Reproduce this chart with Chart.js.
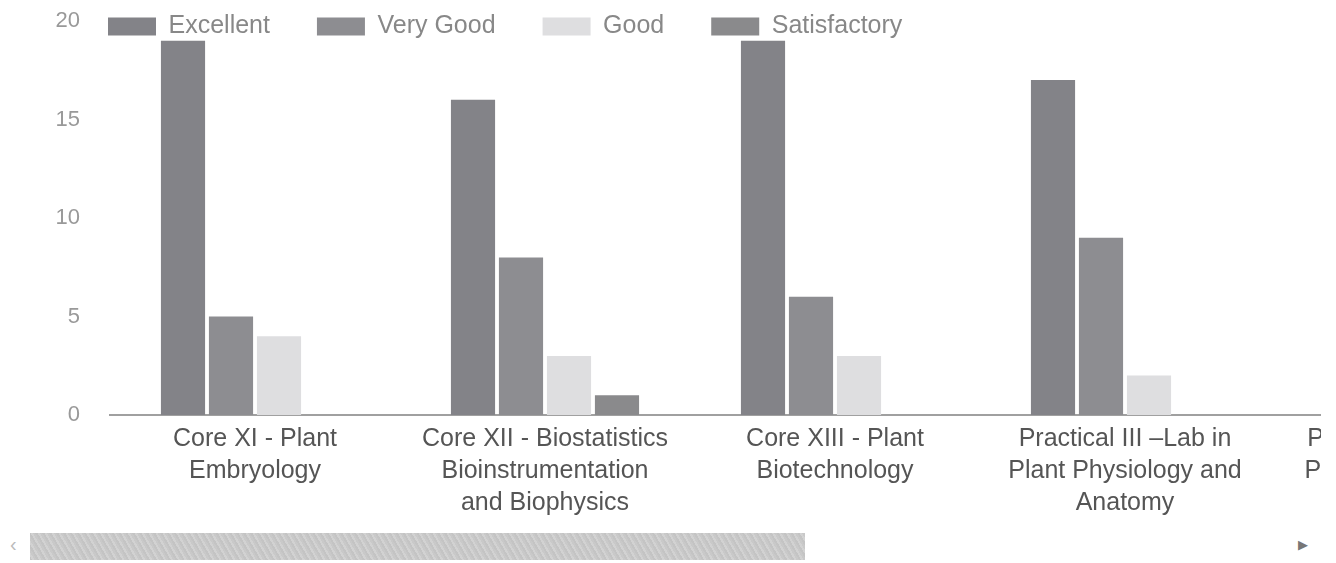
<!DOCTYPE html>
<html>
<head>
<meta charset="utf-8">
<script src="https://cdn.jsdelivr.net/npm/chart.js@4.4.1/dist/chart.umd.min.js"></script>
<style>
  html, body { margin: 0; padding: 0; background: #fff; }
  #clip { position: absolute; left: 0; top: 0; width: 1321px; height: 530px; overflow: hidden; }
  #wrap { position: relative; width: 1575px; height: 530px; }
  #bar { position: absolute; left: 30px; top: 533px; width: 775px; height: 27px;
         background: repeating-linear-gradient(60deg, #c4c4c4 0 2px, #d2d2d2 2px 4px, #c9c9c9 4px 6px); }
  .arr { position: absolute; font-family: "Liberation Sans", Arial, sans-serif; }
</style>
</head>
<body>
<div id="clip"><div id="wrap"><canvas id="chart"></canvas></div></div>
<div id="bar"></div>
<div class="arr" style="left:10px; top:533px; font-size:20px; color:#bbb;">‹</div>
<div class="arr" style="left:1298px; top:537px; font-size:13px; color:#777;">▶</div>
<script>
const categories = [
    ["Core XI - Plant", "Embryology"],
    ["Core XII - Biostatistics", "Bioinstrumentation", "and Biophysics"],
    ["Core XIII - Plant", "Biotechnology"],
    ["Practical III \u2013Lab in", "Plant Physiology and", "Anatomy"],
    ["Practical IV \u2013Lab in", "Plant Biotechnology"]
];
const seriesNames = ["Excellent", "Very Good", "Good", "Satisfactory"];
const excellent = [19, 16, 19, 17, null];
const veryGood = [5, 8, 6, 9, null];
const good = [4, 3, 3, 2, null];
const satisfactory = [0, 1, 0, 0, null];
const yTicks = [0, 5, 10, 15, 20];

const colors = ["#838388", "#8d8d91", "#dedee0", "#8a8a8c"];
const font = "'Liberation Sans', Arial, sans-serif";

// legend is drawn inside the plot, level with the top tick
const legendInside = {
    id: "legendInside",
    afterLayout(chart) {
        const lg = chart.legend;
        lg.left = chart.chartArea.left - 49;
        lg.top = -33;
        lg.height = 120;
        lg.bottom = lg.top + lg.height;
    }
};

const ctx = document.getElementById("chart").getContext("2d");

new Chart(ctx, {
    type: "bar",
    data: {
        labels: categories,
        datasets: [excellent, veryGood, good, satisfactory].map((d, i) => ({
            label: seriesNames[i],
            data: d,
            backgroundColor: colors[i],
            borderWidth: 0,
            barPercentage: 0.92,
            categoryPercentage: 0.662
        }))
    },
    options: {
        responsive: true,
        maintainAspectRatio: false,
        animation: false,
        layout: { padding: { top: 20, left: 0, right: 15, bottom: 3 } },
        scales: {
            x: {
                grid: { display: false, drawTicks: false },
                border: { display: true, color: "#a0a0a0", width: 2 },
                ticks: {
                    color: "#555",
                    padding: 8,
                    maxRotation: 0,
                    autoSkip: false,
                    font: { family: font, size: 25, lineHeight: 1.28 }
                }
            },
            y: {
                min: 0,
                max: 20,
                afterBuildTicks(axis) { axis.ticks = yTicks.map(v => ({ value: v })); },
                afterFit(axis) {
                    axis.width = 110;
                    axis.paddingTop = 0;
                    axis.paddingBottom = 0;
                },
                grid: { display: false, drawTicks: false },
                border: { display: false },
                ticks: {
                    color: "#999",
                    padding: 30,
                    font: { family: font, size: 22 }
                }
            }
        },
        plugins: {
            legend: {
                position: "top",
                align: "start",
                fullSize: false,
                maxHeight: 1,
                labels: {
                    boxWidth: 48,
                    boxHeight: 18,
                    padding: 47,
                    color: "#888",
                    font: { family: font, size: 25 }
                }
            },
            tooltip: { enabled: false }
        }
    },
    plugins: [legendInside]
});
</script>
</body>
</html>
